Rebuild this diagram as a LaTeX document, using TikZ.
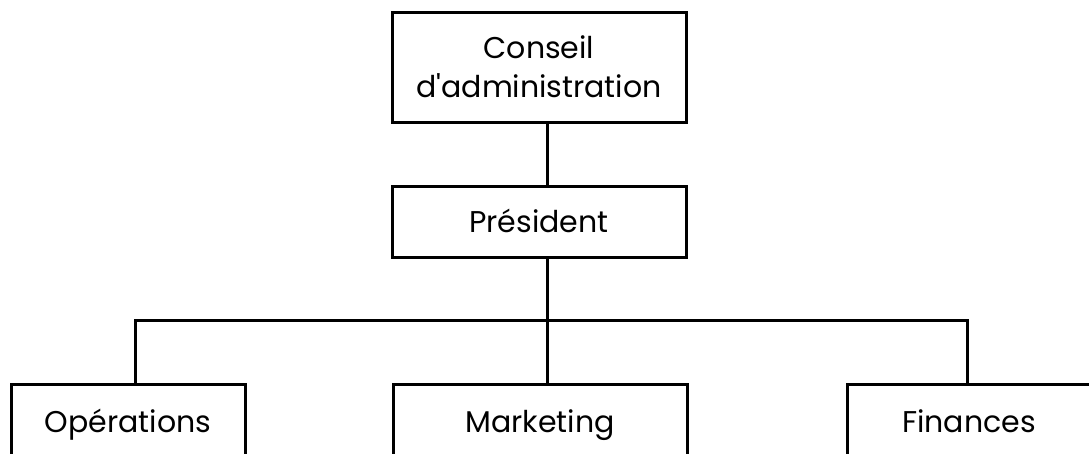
\documentclass[tikz,border=0pt]{standalone}
\usepackage{fontspec}
\setmainfont{Poppins}[Ligatures=TeXOff]
\usetikzlibrary{positioning}

\begin{document}
\begin{tikzpicture}[
    x=1pt, y=-1pt,
    b/.style={rectangle, draw, line width=3pt, minimum height=71pt, inner sep=0pt, align=center, text height=21pt, text depth=0pt, font=\fontsize{30}{39}\selectfont},
    u/.style={b, minimum height=76pt},
    l/.style={line width=3pt},
]
\useasboundingbox (0,0) rectangle (1089,453);
\clip (0,0) rectangle (1089,453);

% Top
\node[b, minimum width=294pt, minimum height=110pt, text height=61pt] (conseil) at (539,67) {Conseil\\d'administration};
\node[b, minimum width=294pt] (pres) at (539,221.5) {Président};

% Departments
\node[u, minimum width=234pt] (ops) at (128,422) {Opérations};
\node[u, minimum width=294pt] (mkt) at (540,422) {Marketing};
\node[u, minimum width=244pt] (fin) at (969,422) {Finances};

% Connectors
\coordinate (hub) at (547,320.5);
\coordinate (lft) at (135,320.5);
\coordinate (rgt) at (967,320.5);
\draw[l] (hub |- conseil.south) -- (hub |- pres.north);
\draw[l] (hub |- pres.south) -- (hub |- mkt.north);
\draw[l] (lft |- ops.north) -- (lft) -- (rgt) -- (rgt |- fin.north);
\end{tikzpicture}
\end{document}
